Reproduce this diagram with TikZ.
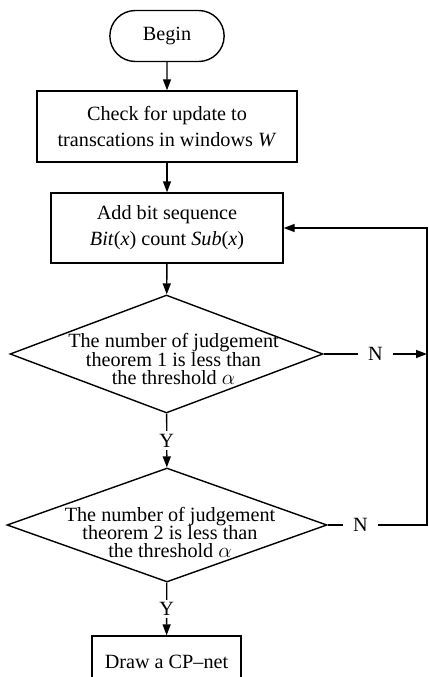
\documentclass[tikz,border=0pt]{standalone}
\usepackage{fontspec}
\setmainfont{Liberation Serif}
\usetikzlibrary{shapes.geometric,shapes.misc,arrows.meta}
\newcommand\tightlines{\fontsize{11.5}{10.3}\selectfont\lineskiplimit-20pt\relax}
\begin{document}
\begin{tikzpicture}[
  font=\fontsize{11.5}{14.7}\selectfont,
  line width=0.8pt,
  >={Triangle[length=2.2mm,width=1.6mm]},
  terminal/.style={shape=rounded rectangle, draw=black, minimum width=2.52cm, minimum height=1.02cm},
  process/.style={shape=rectangle, draw=black, align=center},
  decision/.style={shape=diamond, draw=black, inner sep=0pt},
  question/.style={align=center, font=\tightlines},
  answer/.style={fill=white, inner xsep=6pt, inner ysep=1.5pt}
]
\useasboundingbox (0,0) rectangle (8.56,-13.54);
\node[terminal] (B) at (3.34,-0.72) {Begin};
\node[process, minimum width=5.2cm, minimum height=1.42cm] (C) at (3.34,-2.53) {Check for update to\\transcations in windows \textit{W}};
\node[process, minimum width=4.64cm, minimum height=1.40cm] (A) at (3.34,-4.56) {Add bit sequence\\\textit{Bit}(\textit{x}) count \textit{Sub}(\textit{x})};
\node[decision, minimum width=6.26cm, minimum height=2.36cm, label={[question, xshift=0.14cm, yshift=-0.1cm]center:The number of judgement\\theorem 1 is less than\\the threshold $\alpha$}] (J1) at (3.33,-7.08) {};
\node[decision, minimum width=6.4cm, minimum height=2.28cm, label={[question, xshift=0.06cm, yshift=-0.15cm]center:The number of judgement\\theorem 2 is less than\\the threshold $\alpha$}] (J2) at (3.34,-10.5) {};
\node[process, minimum width=2.98cm, minimum height=1.04cm] (D) at (3.33,-13.24) {Draw a CP--net};
\coordinate (R1) at (8.54,-7.08);
\coordinate (R2) at (8.54,-10.5);
\coordinate (R3) at (8.54,-4.56);
\path[->] (B) edge (C);
\path[->] (C) edge (A);
\path[->] (A) edge (J1);
\path[->] (J1) edge node[answer]{Y} (J2);
\path[->] (J2) edge node[answer]{Y} (D);
\path[->] (J1) edge node[answer]{N} (R1);
\draw[->] (J2) -- node[answer, pos=0.33]{N} (R2) -- (R3) -- (A);
\end{tikzpicture}
\end{document}
